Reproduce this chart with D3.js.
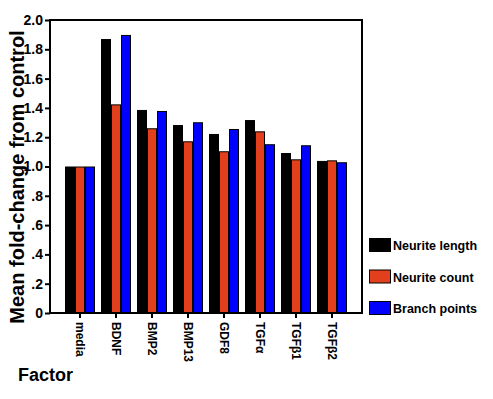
<!DOCTYPE html>
<html lang="en">
<head>
<meta charset="UTF-8" />
<title>Mean fold-change from control</title>
<script src="https://d3js.org/d3.v7.min.js"></script>
<style>
  html, body { margin: 0; padding: 0; background: #fff; }
  body { font-family: "Liberation Sans", Arial, sans-serif; }
  svg { display: block; }
  .axis text { font-family: "Liberation Sans", Arial, sans-serif; font-weight: bold; fill: #000; }
  .axis line { stroke: #000; stroke-width: 2; }
</style>
</head>
<body>
<svg width="493" height="399"></svg>
<script>
  // data
  const factors = ["media", "BDNF", "BMP2", "BMP13", "GDF8", "TGF\u03b1", "TGF\u03b21", "TGF\u03b22"];
  const series = ["Neurite length", "Neurite count", "Branch points"];
  const neuriteLength = [1.00, 1.87, 1.386, 1.283, 1.222, 1.317, 1.092, 1.038];
  const neuriteCount  = [1.00, 1.424, 1.261, 1.172, 1.104, 1.240, 1.049, 1.042];
  const branchPoints  = [1.00, 1.898, 1.379, 1.302, 1.256, 1.152, 1.145, 1.029];
  const yTicks = [0, 0.2, 0.4, 0.6, 0.8, 1.0, 1.2, 1.4, 1.6, 1.8, 2.0];
  const yTickLabels = ["0", ".2", ".4", ".6", ".8", "1.0", "1.2", "1.4", "1.6", "1.8", "2.0"];
  const colors = ["#000000", "#e2401c", "#0000ff"];

  const values = [neuriteLength, neuriteCount, branchPoints];
  const svg = d3.select("svg");

  const plotLeft = 50, plotRight = 362, plotTop = 20, plotBottom = 313;

  const x0 = d3.scaleBand().domain(factors).range([plotLeft, plotRight])
    .paddingInner(1 / 6).paddingOuter(5 / 12);
  const x1 = d3.scaleBand().domain(series).range([0, x0.bandwidth()]);
  const y = d3.scaleLinear().domain([0, 2]).range([plotBottom, plotTop]);

  // bars
  const groups = svg.append("g")
    .selectAll("g")
    .data(factors)
    .join("g")
    .attr("transform", d => `translate(${x0(d)},0)`);

  groups.selectAll("rect")
    .data((d, i) => series.map((s, j) => ({ s, v: values[j][i], c: colors[j] })))
    .join("rect")
    .attr("x", d => x1(d.s) + 0.5)
    .attr("y", d => y(d.v) + 0.5)
    .attr("width", x1.bandwidth() - 1)
    .attr("height", d => y(0) - y(d.v) - 0.5)
    .attr("fill", d => d.c)
    .attr("stroke", "#000")
    .attr("stroke-width", 1);

  // frame
  svg.append("rect")
    .attr("x", plotLeft).attr("y", plotTop)
    .attr("width", plotRight - plotLeft).attr("height", plotBottom - plotTop)
    .attr("fill", "none").attr("stroke", "#000").attr("stroke-width", 2);

  // y axis
  const yAxis = svg.append("g")
    .attr("class", "axis")
    .attr("transform", `translate(${plotLeft},0)`)
    .call(d3.axisLeft(y).tickValues(yTicks)
      .tickFormat((d, i) => yTickLabels[i]).tickSize(5).tickPadding(2));
  yAxis.select(".domain").remove();
  yAxis.selectAll("text").style("font-size", "14px");

  // x axis
  const xAxis = svg.append("g")
    .attr("class", "axis")
    .attr("transform", `translate(0,${plotBottom})`)
    .call(d3.axisBottom(x0).tickSize(5).tickPadding(0));
  xAxis.select(".domain").remove();
  xAxis.selectAll("text")
    .style("font-size", "12px")
    .attr("text-anchor", "start")
    .attr("transform", "rotate(90)")
    .attr("x", 9)
    .attr("y", 0)
    .attr("dy", "0.35em");

  // axis titles
  svg.append("text")
    .attr("transform", "translate(24,177) rotate(-90)")
    .attr("text-anchor", "middle")
    .style("font-size", "20px")
    .style("font-weight", "bold")
    .text("Mean fold-change from control");

  svg.append("text")
    .attr("x", 18).attr("y", 381)
    .style("font-size", "18px")
    .style("font-weight", "bold")
    .text("Factor");

  // legend
  const legend = svg.append("g")
    .selectAll("g")
    .data(series)
    .join("g")
    .attr("transform", (d, i) => `translate(369,${238 + i * 31.5})`);

  legend.append("rect")
    .attr("x", 0.5).attr("y", 0.5)
    .attr("width", 21).attr("height", 13)
    .attr("fill", (d, i) => colors[i])
    .attr("stroke", "#000").attr("stroke-width", 1);

  legend.append("text")
    .attr("x", 24).attr("y", 12)
    .style("font-size", "12.5px")
    .style("font-weight", "bold")
    .text(d => d);
</script>
</body>
</html>
